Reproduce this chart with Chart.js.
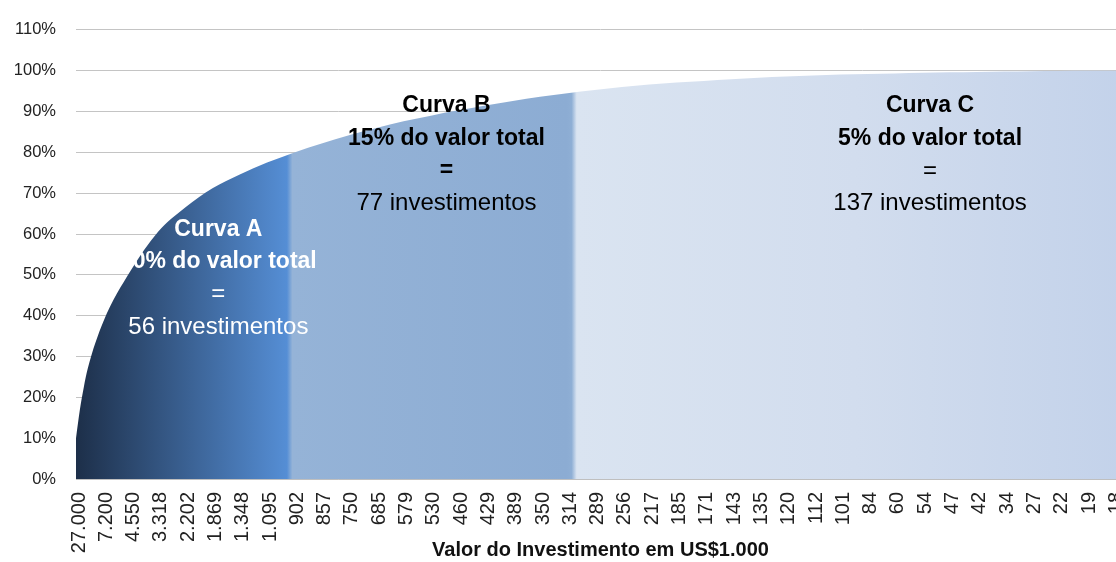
<!DOCTYPE html>
<html lang="pt-BR">
<head>
<meta charset="utf-8">
<title>Curva ABC dos investimentos</title>
<script src="https://cdn.jsdelivr.net/npm/chart.js@4.4.1/dist/chart.umd.min.js"></script>
<style>
  html, body { margin: 0; padding: 0; background: #fff; overflow: hidden; }
  #wrap { width: 1136px; height: 562px; }
</style>
</head>
<body>
<div id="wrap"><canvas id="abcChart" width="1136" height="562"></canvas></div>
<script>
// investimentos por faixa (A, B, C)
const regionCounts = [56, 77, 137];

// valor do investimento (US$1.000) a cada 7 posições
const tickLabels = [
    '27.000', '7.200', '4.550', '3.318', '2.202', '1.869', '1.348', '1.095',
    '902', '857', '750', '685', '579', '530', '460', '429', '389', '350', '314',
    '289', '256', '217', '185', '171', '143', '135', '120', '112', '101',
    '84', '60', '54', '47', '42', '34', '27', '22', '19', '18'
];

// posição do investimento no ranking (0 = maior)
const sampleIndex = [
    0, 1, 2, 3, 7, 14, 21, 28, 35, 42, 49, 56, 63, 70, 77, 84, 91, 98, 105,
    112, 119, 126, 133, 140, 147, 154, 161, 168, 175, 182, 189, 196, 203,
    210, 217, 224, 231, 238, 245, 252, 259, 266, 269
];

// % acumulado do valor total
const cumulativePct = [
    10, 17, 22.5, 27, 38.5, 51, 60.5, 66.5, 71.2, 74.6, 77.5, 80, 82.2, 84.2,
    86, 87.6, 89, 90.3, 91.5, 92.6, 93.6, 94.5, 95.3, 96, 96.6, 97.1, 97.5,
    97.9, 98.3, 98.6, 98.85, 99.05, 99.2, 99.35, 99.5, 99.6, 99.7, 99.8,
    99.9, 99.95, 100, 100, 100
];

const regionNotes = [
    ['Curva A', '80% do valor total', '=', '56 investimentos'],
    ['Curva B', '15% do valor total', '=', '77 investimentos'],
    ['Curva C', '5% do valor total', '=', '137 investimentos']
];

const lastIndex = regionCounts.reduce((a, b) => a + b, 0) - 1;
const tickStep = 7;
const FONT = "'Liberation Sans', Arial, sans-serif";

// where the colour bands change (in ranking positions, as seen in the figure)
const bandEdges = [54.9, 127.4];

function areaFill(ctx) {
    const chart = ctx.chart;
    const x = chart.scales.x;
    if (!chart.chartArea || !x) return '#558ed5';
    const x0 = x.getPixelForValue(0);
    const x1 = x.getPixelForValue(lastIndex);
    const f = v => Math.min(1, Math.max(0, (x.getPixelForValue(v) - x0) / (x1 - x0)));
    const g = chart.ctx.createLinearGradient(x0, 0, x1, 0);
    g.addColorStop(0, '#1d2f49');
    g.addColorStop(f(bandEdges[0] - 0.8), '#558ed5');
    g.addColorStop(f(bandEdges[0] + 0.6), '#95b3d7');
    g.addColorStop(f(bandEdges[1] - 1.5), '#8cacd3');
    g.addColorStop(f(bandEdges[1] - 0.3), '#8fafd5');
    g.addColorStop(f(bandEdges[1] + 1.0), '#dae4f1');
    g.addColorStop(f(200), '#d2ddee');
    g.addColorStop(1, '#c3d2ea');
    return g;
}

// note blocks: anchor in data units, colour, which lines are bold
const noteStyle = [
    { x: 36.5, y: 61.1, color: '#ffffff', bold: [true, true, false, false] },
    { x: 95, y: 91.4, color: '#000000', bold: [true, true, true, false] },
    { x: 219, y: 91.4, color: '#000000', bold: [true, true, false, false] }
];

const notesPlugin = {
    id: 'regionNotes',
    afterDatasetsDraw(chart) {
        const { ctx, scales } = chart;
        ctx.save();
        ctx.textAlign = 'center';
        ctx.textBaseline = 'middle';
        regionNotes.forEach((lines, i) => {
            const s = noteStyle[i];
            const cx = scales.x.getPixelForValue(s.x);
            const cy = scales.y.getPixelForValue(s.y);
            ctx.fillStyle = s.color;
            lines.forEach((t, j) => {
                ctx.font = s.bold[j] ? 'bold 23px ' + FONT : '24px ' + FONT;
                ctx.fillText(t, cx, cy + j * 32.6);
            });
        });
        ctx.restore();
    }
};

new Chart(document.getElementById('abcChart'), {
    type: 'line',
    data: {
        datasets: [{
            label: '% acumulado',
            data: sampleIndex.map((v, i) => ({ x: v, y: cumulativePct[i] })),
            fill: 'origin',
            backgroundColor: areaFill,
            borderWidth: 0,
            pointRadius: 0,
            cubicInterpolationMode: 'monotone'
        }]
    },
    options: {
        responsive: false,
        animation: false,
        layout: { padding: { top: 24, right: 11, left: 0, bottom: 0 } },
        plugins: {
            legend: { display: false },
            tooltip: { enabled: false }
        },
        scales: {
            x: {
                type: 'linear',
                min: 0,
                max: lastIndex,
                grid: { display: false, drawTicks: false },
                border: { color: '#bfbfbf', width: 1 },
                ticks: {
                    stepSize: tickStep,
                    maxTicksLimit: 100,
                    includeBounds: false,
                    autoSkip: false,
                    minRotation: 90,
                    maxRotation: 90,
                    padding: 13,
                    labelOffset: 3,
                    color: '#222',
                    font: { family: FONT, size: 20 },
                    callback: v => tickLabels[Math.round(v / tickStep)] ?? ''
                },
                title: {
                    display: true,
                    text: 'Valor do Investimento em US$1.000',
                    color: '#111',
                    font: { family: FONT, size: 20, weight: 'bold' },
                    padding: { top: 0, bottom: 0 }
                },
                afterFit: s => {
                    s.height = 83;
                    s.paddingLeft = 0;
                    s.paddingRight = 0;
                }
            },
            y: {
                min: 0,
                max: 110,
                grid: { color: '#c4c4c4', drawTicks: false },
                border: { display: false },
                ticks: {
                    stepSize: 10,
                    padding: 20,
                    color: '#222',
                    font: { family: FONT, size: 16.5 },
                    callback: v => v + '%'
                },
                afterFit: s => { s.width = 76; }
            }
        }
    },
    plugins: [notesPlugin]
});
</script>
</body>
</html>
